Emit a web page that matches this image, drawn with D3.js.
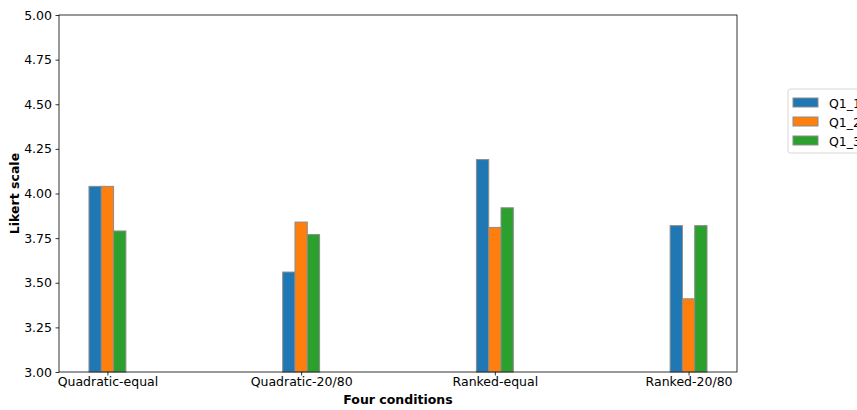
<!DOCTYPE html>
<html>
<head>
<meta charset="utf-8">
<script src="https://cdn.jsdelivr.net/npm/d3@7"></script>
<style>
  body { margin: 0; background: #fff; }
  text { font-family: "DejaVu Sans", sans-serif; }
</style>
</head>
<body>
<div id="chart"></div>
<script>
// data
var conditions = ["Quadratic-equal", "Quadratic-20/80", "Ranked-equal", "Ranked-20/80"];
var seriesNames = ["Q1_1", "Q1_2", "Q1_3"];
var q1_1 = [4.04, 3.56, 4.19, 3.82];
var q1_2 = [4.04, 3.84, 3.81, 3.41];
var q1_3 = [3.79, 3.77, 3.92, 3.82];
var yTicks = [3.00, 3.25, 3.50, 3.75, 4.00, 4.25, 4.50, 4.75, 5.00];
var colors = ["#1f77b4", "#ff7f0e", "#2ca02c"];

var allSeries = [q1_1, q1_2, q1_3];

var W = 857, H = 410;
var m = {left: 59, right: 737, top: 15, bottom: 372};
var barW = 0.0635;
var fs = "12.5px";

var svg = d3.select("#chart").append("svg")
  .attr("width", W).attr("height", H);

var x = d3.scaleLinear().domain([-0.25, 3.25]).range([m.left, m.right]);
var y = d3.scaleLinear().domain([3, 5]).range([m.bottom, m.top]);

// bars
allSeries.forEach(function(vals, s) {
  svg.append("g").selectAll("rect")
    .data(vals)
    .enter().append("rect")
    .attr("x", function(d, i) { return x(i + (s - 1) * barW - barW / 2); })
    .attr("y", function(d) { return y(d); })
    .attr("width", function(d, i) { return x(i + barW) - x(i); })
    .attr("height", function(d) { return y(3) - y(d); })
    .style("fill", colors[s])
    .style("stroke", "#8c8c8c")
    .style("stroke-width", 1);
});

// axes
var yAxis = d3.axisLeft(y).tickValues(yTicks).tickFormat(d3.format(".2f")).tickSize(3.5).tickPadding(3.5);
var gy = svg.append("g").attr("transform", "translate(" + m.left + ",0)").call(yAxis);
var xAxis = d3.axisBottom(x).tickValues([0, 1, 2, 3]).tickFormat(function(d) { return conditions[d]; }).tickSize(3.5).tickPadding(1.5);
var gx = svg.append("g").attr("transform", "translate(0," + m.bottom + ")").call(xAxis);
[gx, gy].forEach(function(g) {
  g.select(".domain").remove();
  g.selectAll("text").attr("font-size", fs).attr("fill", "#000").style("font-family", "DejaVu Sans");
  g.selectAll("line").attr("stroke", "#000").attr("stroke-width", 0.8);
});

// frame
svg.append("rect")
  .attr("x", m.left).attr("y", m.top)
  .attr("width", m.right - m.left).attr("height", m.bottom - m.top)
  .style("fill", "none").style("stroke", "#000").style("stroke-width", 0.8);

// axis titles
svg.append("text")
  .attr("x", (m.left + m.right) / 2).attr("y", 404)
  .attr("text-anchor", "middle")
  .attr("font-size", fs).attr("font-weight", "bold")
  .text("Four conditions");

svg.append("text")
  .attr("transform", "translate(19," + (m.top + m.bottom) / 2 + ") rotate(-90)")
  .attr("text-anchor", "middle")
  .attr("font-size", fs).attr("font-weight", "bold")
  .text("Likert scale");

// legend
var legend = svg.append("g").attr("transform", "translate(788,89)");
legend.append("rect")
  .attr("x", 0).attr("y", 0).attr("width", 80).attr("height", 64)
  .attr("rx", 2.5)
  .style("fill", "#fff").style("stroke", "#cccccc").style("stroke-width", 0.8);
var items = legend.selectAll(".item")
  .data(seriesNames)
  .enter().append("g")
  .attr("transform", function(d, i) { return "translate(5," + (9 + i * 19) + ")"; });
items.append("rect")
  .attr("width", 25).attr("height", 9)
  .style("fill", function(d, i) { return colors[i]; })
  .style("stroke", "#8c8c8c").style("stroke-width", 1);
items.append("text")
  .attr("x", 36).attr("y", 9.5)
  .attr("font-size", fs)
  .text(function(d) { return d; });
</script>
</body>
</html>
